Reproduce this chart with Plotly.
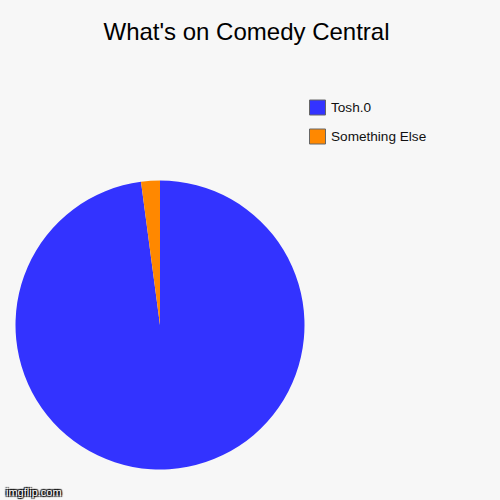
import plotly.graph_objects as go

labels = ["Tosh.0", "Something Else"]
values = [97.9, 2.1]
colors = ["#3333ff", "#ff8800"]
title_text = "What's on Comedy Central"
watermark = "imgflip.com"

W, H = 500, 500
bg = "#f7f7f7"

fig = go.Figure()
fig.add_trace(go.Pie(
    labels=labels,
    values=values,
    marker=dict(colors=colors, line=dict(width=0)),
    sort=False,
    direction="clockwise",
    rotation=0,
    textinfo="none",
    hoverinfo="label+percent",
    showlegend=False,
    domain=dict(x=[15.5 / W, 304.5 / W], y=[(H - 469.5) / H, (H - 180.5) / H]),
))

# legend drawn as decoration (swatch + label per category)
shapes = []
annotations = []
for i, (lab, col) in enumerate(zip(labels, colors)):
    yc = 107.5 + i * 29
    shapes.append(dict(
        type="rect", xref="paper", yref="paper",
        x0=309.5 / W, x1=325.5 / W,
        y0=1 - (yc + 7.5) / H, y1=1 - (yc - 7.5) / H,
        fillcolor=col, line=dict(color="#666666", width=1),
    ))
    annotations.append(dict(
        text=lab, xref="paper", yref="paper",
        x=329 / W, y=1 - yc / H, xanchor="left", yanchor="middle",
        showarrow=False,
        font=dict(family="Liberation Sans, Arial, sans-serif", size=13.6, color="#111111"),
    ))

annotations.append(dict(
    text=watermark, xref="paper", yref="paper",
    x=4 / W, y=1 - 492 / H, xanchor="left", yanchor="middle",
    showarrow=False,
    font=dict(family="Liberation Sans, Arial, sans-serif", size=11, color="white",
              shadow="1px 1px 1px #000, -1px -1px 1px #000, 1px -1px 1px #000, -1px 1px 1px #000"),
))

fig.update_layout(
    width=W, height=H, autosize=False,
    margin=dict(l=0, r=0, t=0, b=0),
    paper_bgcolor=bg, plot_bgcolor=bg,
    title=dict(
        text=title_text, x=0.493, xanchor="center",
        y=1 - 32 / H, yanchor="middle", yref="container",
        font=dict(family="Liberation Sans, Arial, sans-serif", size=24, color="#000000"),
    ),
    shapes=shapes,
    annotations=annotations,
)

fig.write_html(
    "out.html",
    config={"displayModeBar": False},
    post_script="document.body.style.margin='0';document.body.style.overflow='hidden';",
)
